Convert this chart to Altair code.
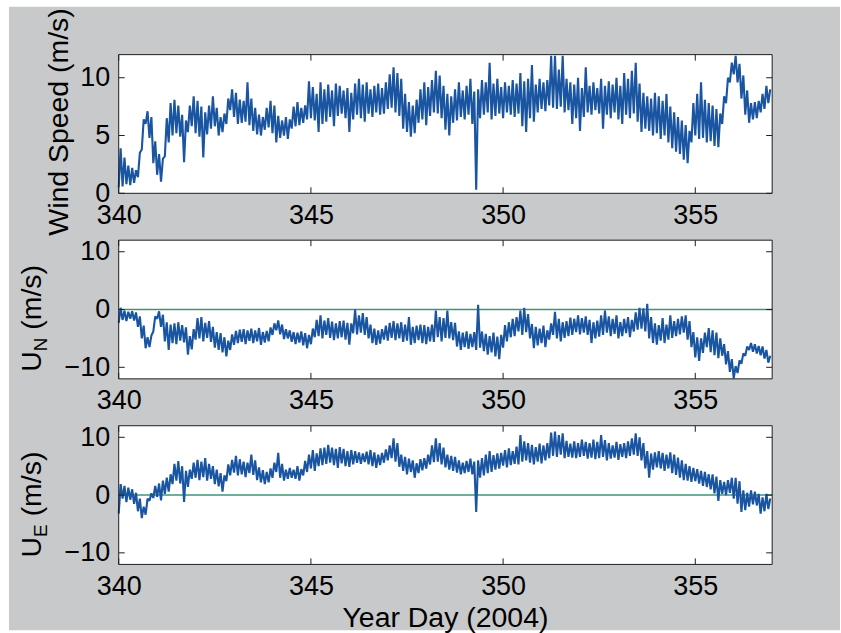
import altair as alt
import pandas as pd

# Sampling of the record: one low/high pair per 0.1 day, starting at day 340.0
T0 = 340.0
STEP = 0.1

# Wind speed (m/s), per 0.1-day bin: lower and upper extent of the trace
speed_lo = [
    0.5, 0.6, 0.8, 0.7, 0.9, 1.4, 3.8, 6.0, 4.8, 2.6,
    1.6, 1.0, 3.2, 4.4, 5.0, 5.2, 4.9, 2.7, 5.3, 5.8,
    5.2, 4.9, 3.1, 5.1, 5.6, 5.8, 5.0, 5.3, 6.0, 7.2,
    6.6, 6.0, 6.1, 6.2, 5.9, 5.4, 5.1, 5.0, 5.5, 5.7,
    5.2, 4.4, 4.8, 5.0, 4.7, 5.6, 5.8, 5.9, 6.1, 6.4,
    6.5, 6.3, 5.3, 6.0, 6.2, 6.6, 5.8, 6.7, 6.9, 6.5,
    5.3, 6.4, 6.8, 6.5, 6.2, 6.9, 6.6, 7.0, 6.8, 6.9,
    7.3, 7.4, 7.0, 6.7, 5.6, 5.3, 4.9, 5.2, 6.1, 6.4,
    5.9, 6.7, 7.0, 6.9, 6.5, 5.5, 5.0, 6.1, 6.3, 6.6,
    6.4, 6.8, 6.0, 0.3, 6.5, 6.8, 7.0, 6.4, 6.7, 6.9,
    6.5, 7.0, 6.8, 6.6, 6.9, 5.8, 5.3, 6.5, 6.2, 7.0,
    7.3, 7.1, 7.6, 7.4, 7.3, 7.5, 7.0, 7.2, 6.0, 6.5,
    5.4, 6.6, 7.0, 6.8, 7.2, 6.9, 5.6, 6.8, 6.5, 7.0,
    6.4, 6.0, 6.8, 6.5, 6.9, 6.2, 5.3, 5.6, 5.4, 5.0,
    5.2, 4.7, 5.0, 4.4, 3.9, 3.6, 3.4, 2.9, 2.6, 4.4,
    5.0, 4.7, 4.8, 4.4, 4.5, 4.1, 4.0, 6.0, 7.8, 9.6,
    10.3, 9.6, 8.2, 6.8, 6.1, 6.4, 6.5, 7.0, 7.3, 7.8,
]
speed_hi = [
    3.9, 3.1, 2.4, 2.2, 2.0, 3.5, 6.4, 7.1, 6.6, 4.5,
    3.4, 3.0, 6.5, 7.8, 8.1, 7.6, 6.8, 6.3, 7.6, 8.4,
    8.0, 7.5, 7.0, 7.6, 8.4, 7.4, 6.6, 6.9, 8.2, 9.0,
    8.7, 8.1, 8.0, 9.6, 8.2, 7.4, 6.8, 6.6, 7.4, 8.0,
    7.6, 6.7, 6.3, 6.6, 6.4, 7.5, 7.9, 7.4, 7.6, 9.7,
    9.2, 8.6, 9.6, 9.0, 9.4, 8.9, 9.5, 9.3, 8.9, 9.1,
    8.7, 9.5, 9.9, 9.4, 9.6, 9.0, 9.3, 9.5, 9.1, 9.6,
    10.3, 10.9, 10.4, 9.9, 8.6, 7.9, 7.6, 8.1, 9.0, 9.6,
    9.2, 9.8, 10.6, 10.2, 9.3, 8.6, 8.4, 9.0, 9.6, 8.9,
    9.3, 9.9, 8.8, 9.0, 9.8, 9.6, 11.3, 9.5, 9.9, 9.2,
    9.6, 9.3, 9.8, 9.5, 10.4, 9.7, 9.9, 11.1, 9.4, 9.9,
    9.6, 9.8, 11.9, 11.9, 10.7, 11.9, 9.9, 9.6, 9.4, 10.0,
    9.1, 10.9, 9.3, 9.6, 9.1, 9.9, 9.3, 9.7, 9.4, 10.0,
    9.3, 10.4, 9.9, 10.6, 11.3, 9.5, 8.7, 8.4, 8.2, 8.7,
    8.4, 8.0, 8.6, 7.5, 7.0, 6.6, 6.3, 5.9, 5.4, 7.8,
    8.6, 9.6, 8.1, 7.8, 7.6, 7.3, 6.9, 8.4, 10.0, 11.3,
    11.9, 11.2, 10.2, 8.9, 7.8, 7.9, 8.0, 8.6, 9.3, 9.0,
]

# Northward component U_N (m/s)
un_lo = [
    -2.3, -1.8, -2.0, -1.6, -1.9, -3.0, -5.0, -6.7, -6.5, -3.8,
    -1.6, -3.0, -5.5, -7.0, -5.8, -6.0, -5.4, -5.7, -7.8, -6.9,
    -5.2, -5.0, -5.5, -4.9, -5.6, -6.6, -7.0, -7.4, -8.1, -7.0,
    -6.1, -5.8, -5.6, -6.0, -5.4, -5.8, -5.5, -6.1, -5.7, -5.5,
    -4.4, -3.6, -4.3, -5.1, -5.0, -5.6, -6.0, -5.7, -6.2, -6.7,
    -6.0, -4.8, -4.6, -5.0, -4.4, -4.9, -5.3, -5.0, -4.8, -5.2,
    -6.1, -4.1, -4.3, -4.0, -4.4, -5.0, -5.8, -6.1, -5.9, -5.2,
    -5.4, -4.9, -5.3, -5.0, -5.6, -5.4, -6.1, -5.8, -5.3, -5.8,
    -6.0, -5.5, -5.6, -4.8, -5.5, -4.9, -5.0, -5.3, -6.4, -7.0,
    -6.5, -6.8, -6.5, -7.0, -6.6, -7.2, -7.8, -7.4, -8.1, -8.6,
    -6.6, -5.5, -4.8, -4.6, -3.8, -4.4, -3.9, -5.0, -6.7, -6.2,
    -5.8, -6.5, -5.2, -4.4, -5.0, -5.5, -4.9, -4.6, -4.4, -3.9,
    -4.3, -4.0, -4.4, -5.8, -5.0, -4.7, -4.4, -4.0, -4.6, -4.2,
    -5.0, -4.6, -4.1, -4.8, -3.8, -3.5, -3.3, -3.8, -5.0, -5.8,
    -6.1, -5.4, -5.8, -5.2, -4.9, -4.6, -4.3, -4.0, -5.2, -6.5,
    -8.3, -8.9, -7.5, -6.5, -7.4, -7.9, -8.4, -8.0, -9.5, -10.8,
    -11.9, -11.0, -9.4, -8.0, -7.0, -7.3, -7.6, -7.9, -8.5, -9.2,
]
un_hi = [
    0.3, -0.2, -0.4, -0.3, -0.5, -1.2, -2.8, -4.8, -4.5, -1.2,
    -0.3, -0.9, -2.2, -2.6, -2.4, -2.2, -2.7, -3.1, -4.6, -3.4,
    -1.5, -1.3, -2.3, -2.0, -3.0, -3.9, -4.1, -4.8, -5.4, -4.3,
    -3.7, -3.5, -3.4, -3.6, -3.3, -3.6, -3.2, -3.9, -3.7, -3.1,
    -2.4, -1.9, -2.6, -3.4, -3.6, -3.9, -4.0, -3.8, -4.1, -4.4,
    -3.3, -1.8, -1.0, -1.9, -1.5, -2.1, -2.4, -2.0, -1.9, -2.3,
    -2.4, 0.0, -1.0, -0.6, -1.3, -2.6, -3.3, -3.6, -3.4, -2.8,
    -2.3, -2.0, -2.4, -2.2, -2.6, -1.3, -3.0, -2.8, -2.6, -2.7,
    -3.0, -2.6, -0.2, -1.3, -1.5, -0.2, -2.2, -2.3, -3.8, -4.0,
    -3.8, -4.2, -3.9, 0.8, -3.8, -4.2, -4.6, -4.0, -4.7, -4.4,
    -2.7, -2.2, -1.6, -1.3, -0.2, 0.3, -0.8, -2.5, -3.0, -3.3,
    -2.8, -3.6, -2.4, -0.4, -1.6, -2.2, -2.0, -1.4, -1.6, -1.0,
    -1.5, -1.2, -1.8, -2.2, -1.9, -1.0, -0.2, -1.2, -1.6, -1.0,
    -2.2, -1.6, -1.3, -1.8, -0.5, 0.3, 0.2, 1.0, -1.3, -2.4,
    -2.7, -1.5, -2.6, -1.0, -2.0, -1.6, -1.2, -1.0, -2.0, -3.9,
    -4.8, -5.0, -4.0, -3.2, -3.6, -4.0, -5.0, -6.0, -7.2, -8.6,
    -9.8, -8.8, -7.6, -6.4, -5.8, -6.0, -6.3, -6.4, -7.0, -8.0,
]

# Eastward component U_E (m/s)
ue_lo = [
    -3.2, -0.6, -1.2, -0.8, -1.5, -2.8, -4.0, -3.4, -1.0, -0.5,
    -0.3, -0.9, 0.2, 0.6, 1.9, 2.5, 2.0, -1.2, 1.4, 2.8,
    3.0, 2.6, 3.1, 2.5, 2.8, 1.9, 1.5, 0.6, 2.4, 3.4,
    3.9, 3.4, 3.6, 3.1, 3.8, 3.5, 2.6, 2.2, 1.9, 2.2,
    3.0, 4.0, 3.0, 2.5, 2.8, 3.0, 2.8, 2.5, 3.4, 4.0,
    4.6, 4.2, 5.0, 5.2, 5.4, 5.6, 5.2, 4.7, 5.5, 5.0,
    4.9, 5.3, 5.6, 5.4, 5.7, 5.3, 5.0, 4.7, 5.2, 5.6,
    6.0, 6.4, 5.8, 4.9, 4.2, 3.6, 4.0, 3.0, 3.8, 4.3,
    4.6, 5.3, 5.7, 5.8, 5.3, 4.8, 4.4, 4.2, 3.9, 3.6,
    3.8, 4.0, 3.6, -2.9, 3.0, 3.4, 3.8, 4.0, 4.4, 4.6,
    5.1, 4.8, 5.2, 5.4, 5.3, 5.8, 6.0, 5.6, 5.3, 5.8,
    5.5, 6.0, 6.4, 6.8, 6.6, 7.0, 6.4, 6.6, 6.5, 6.4,
    6.6, 6.8, 6.3, 6.5, 6.2, 6.4, 6.6, 6.0, 6.3, 6.5,
    6.1, 6.6, 6.4, 6.8, 7.0, 6.8, 6.0, 4.6, 3.0, 4.4,
    4.8, 4.6, 4.2, 4.6, 3.8, 3.5, 3.0, 2.6, 2.5, 2.3,
    2.4, 2.0, 1.6, 1.4, 1.0, 0.3, -1.0, 0.2, 0.0, 0.4,
    -0.6, -1.5, -2.9, -2.6, -2.0, -1.6, -1.8, -3.2, -2.8, -2.4,
]
ue_hi = [
    1.9, 1.6, 1.3, 1.0, 0.4, -0.6, -2.0, -0.6, 0.3, 1.6,
    2.0, 2.5, 3.0, 3.6, 5.4, 5.9, 5.0, 4.2, 4.4, 5.6,
    6.1, 5.8, 6.4, 5.4, 5.0, 4.4, 3.8, 3.4, 5.3, 6.1,
    6.8, 6.2, 5.8, 5.6, 7.0, 6.0, 4.8, 4.3, 4.0, 4.6,
    5.6, 7.3, 5.4, 4.4, 4.7, 4.4, 5.0, 4.5, 5.9, 7.0,
    7.8, 7.2, 8.1, 8.2, 8.7, 8.2, 8.0, 8.3, 8.0, 7.6,
    7.8, 7.6, 7.4, 7.2, 7.5, 7.8, 7.4, 7.0, 7.3, 7.9,
    8.6, 9.8, 9.0, 7.0, 6.6, 6.3, 6.0, 5.5, 6.2, 6.4,
    7.0, 8.6, 9.8, 9.0, 8.2, 7.0, 6.8, 6.6, 6.0, 5.6,
    5.9, 6.3, 5.8, 6.0, 6.4, 7.0, 7.6, 6.9, 7.2, 7.3,
    7.8, 8.1, 7.6, 8.4, 10.4, 9.3, 9.0, 8.7, 8.3, 8.9,
    8.6, 9.0, 10.8, 11.0, 10.4, 10.7, 9.4, 8.9, 9.3, 9.0,
    9.6, 9.2, 9.0, 9.6, 9.2, 10.4, 9.5, 9.0, 8.6, 9.2,
    8.8, 9.0, 9.3, 9.8, 10.7, 10.0, 9.0, 7.6, 7.2, 7.4,
    7.6, 7.3, 7.0, 7.4, 7.0, 6.5, 6.0, 5.4, 5.0, 4.7,
    4.5, 4.2, 4.0, 3.6, 3.6, 3.2, 2.6, 2.3, 2.6, 3.0,
    3.0, 2.4, 0.8, 0.4, 0.8, 0.6, 0.2, -0.4, 0.2, -0.6,
]

x_ticks = [340, 345, 350, 355]
speed_ticks = [0, 5, 10]
comp_ticks = [-10, 0, 10]
zero_level = [0]

# Layout and style
W, H, GAP = 655, 139, 47
FONT = "Liberation Sans"
FS = 27          # tick labels
TFS = 28.5       # axis titles
SUB_FS = 19
BLUE = "#1a55a2"
GREEN = "#3f9478"
GRAY = "#c8c9cb"
INK = "#1e1e1e"
TICK = 6

ONE = pd.DataFrame({"_": [0]})


def trace(lo, hi):
    rows = []
    for i, (a, b) in enumerate(zip(lo, hi)):
        t = T0 + i * STEP
        rows.append({"t": round(t, 3), "v": a, "k": 2 * i})
        rows.append({"t": round(t + STEP / 2, 3), "v": b, "k": 2 * i + 1})
    return pd.DataFrame(rows)


def text_piece(txt, x, y, size, align="left"):
    return alt.Chart(ONE).mark_text(
        angle=270, font=FONT, fontSize=size, color="black",
        align=align, baseline="alphabetic",
    ).encode(x=alt.value(x), y=alt.value(y), text=alt.value(txt))


def panel(lo, hi, y_domain, y_ticks, ylabel, first=False, last=False, zero=False):
    xs = alt.Scale(domain=[340, 357], nice=False, zero=False)
    ys = alt.Scale(domain=y_domain, nice=False, zero=False)
    x_axis = alt.Axis(
        values=x_ticks, title=None, grid=False, domain=False, tickSize=0,
        labelFont=FONT, labelFontSize=FS, labelColor="black", labelPadding=9,
        labelFlush=False, labelOverlap=False, zindex=1,
    )
    y_axis = alt.Axis(
        values=y_ticks, title=None, grid=False, domain=False, tickSize=0,
        labelFont=FONT, labelFontSize=FS, labelColor="black", labelPadding=9,
        labelFlush=False, labelOverlap=False, zindex=1,
    )
    layers = []
    if first:
        # grey figure background behind all three axes
        layers.append(alt.Chart(ONE).mark_rect(color=GRAY).encode(
            x=alt.value(-110), x2=alt.value(723), y=alt.value(-48), y2=alt.value(577)))
    layers.append(alt.Chart(ONE).mark_rect(color="white").encode(
        x=alt.value(0), x2=alt.value(W), y=alt.value(0), y2=alt.value(H)))
    if zero:
        layers.append(alt.Chart(pd.DataFrame({"z": zero_level})).mark_rule(
            color=GREEN, strokeWidth=1.5).encode(
            y=alt.Y("z:Q", scale=ys, axis=y_axis), x=alt.value(0), x2=alt.value(W)))
    layers.append(alt.Chart(trace(lo, hi)).mark_line(
        color=BLUE, strokeWidth=2.1, strokeJoin="bevel").encode(
        x=alt.X("t:Q", scale=xs, axis=x_axis),
        y=alt.Y("v:Q", scale=ys, axis=y_axis),
        order="k:Q",
    ))
    xt = pd.DataFrame({"x": x_ticks})
    yt = pd.DataFrame({"y": y_ticks})
    for y0, y1 in ((H, H - TICK), (0, TICK)):
        layers.append(alt.Chart(xt).mark_rule(color=INK, strokeWidth=1).encode(
            x=alt.X("x:Q", scale=xs, axis=x_axis), y=alt.value(y0), y2=alt.value(y1)))
    for x0, x1 in ((0, TICK), (W - TICK, W)):
        layers.append(alt.Chart(yt).mark_rule(color=INK, strokeWidth=1).encode(
            y=alt.Y("y:Q", scale=ys, axis=y_axis), x=alt.value(x0), x2=alt.value(x1)))
    layers.append(alt.Chart(ONE).mark_rect(fillOpacity=0, stroke=INK, strokeWidth=1).encode(
        x=alt.value(0), x2=alt.value(W), y=alt.value(0), y2=alt.value(H)))
    layers.extend(ylabel)
    if last:
        layers.append(alt.Chart(ONE).mark_text(
            font=FONT, fontSize=TFS, color="black", align="center", baseline="alphabetic",
        ).encode(x=alt.value(W / 2), y=alt.value(H + 63), text=alt.value("Year Day (2004)")))
    return alt.layer(*layers).properties(width=W, height=H)


def component_label(sub, sub_w):
    # "U" with a subscript letter, then the unit, reading bottom to top
    u_w = 0.722 * TFS
    gap = 0.278 * TFS
    start = 132
    return [
        text_piece("U", -78, start, TFS),
        text_piece(sub, -72, start - u_w, SUB_FS),
        text_piece("(m/s)", -78, start - u_w - sub_w - gap, TFS),
    ]


p1 = panel(speed_lo, speed_hi, [0, 12], speed_ticks,
           [text_piece("Wind Speed (m/s)", -51, H / 2 - 2, TFS, align="center")], first=True)
p2 = panel(un_lo, un_hi, [-12, 12], comp_ticks,
           component_label("N", 0.722 * SUB_FS), zero=True)
p3 = panel(ue_lo, ue_hi, [-12, 12], comp_ticks,
           component_label("E", 0.667 * SUB_FS), zero=True, last=True)

chart = alt.vconcat(p1, p2, p3, spacing=GAP, bounds="flush").properties(
    padding={"left": 8, "top": 5, "right": 0, "bottom": 3},
    background="white",
).configure_view(stroke="transparent")

chart.save("out.html", embed_options={"renderer": "svg", "actions": False})
